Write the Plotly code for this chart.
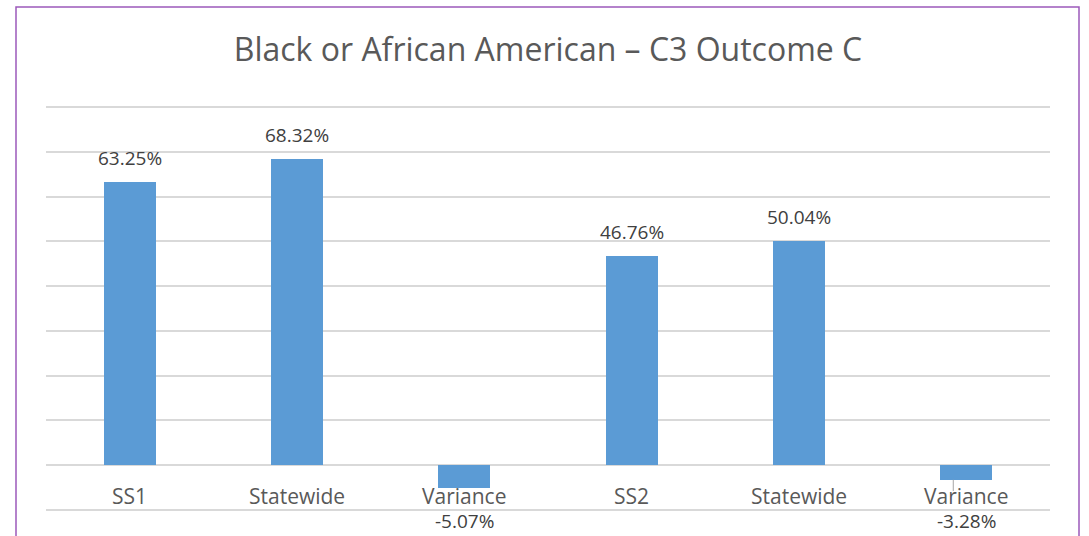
import plotly.graph_objects as go

categories = ["SS1", "Statewide", "Variance", "SS2", "Statewide", "Variance"]
values = [0.6325, 0.6832, -0.0507, 0.4676, 0.5004, -0.0328]
labels = ["63.25%", "68.32%", "-5.07%", "46.76%", "50.04%", "-3.28%"]
title_text = "Black or African American – C3 Outcome C"

W, H = 1089, 536
L, R, T, B = 46, 1050, 106, 511

Y0, Y1 = -0.1, 0.8
EPS = 0.0025
xs = list(range(len(categories)))
fig = go.Figure()
fig.add_trace(go.Bar(x=xs, y=values, width=0.31, marker=dict(color="#5B9BD5", line=dict(width=0)),
                     hoverinfo="skip"))

FONT = "Open Sans"
ann = []
for i, (c, v, t) in enumerate(zip(categories, values, labels)):
    ann.append(dict(x=i, y=0, text=c, showarrow=False, xref="x", yref="y", yanchor="middle", yshift=-31,
                    font=dict(family=FONT, size=21, color="#595959")))
    if v >= 0:
        ann.append(dict(x=i, y=v, text=t, showarrow=False, xref="x", yref="y", yanchor="middle", yshift=24,
                        font=dict(family=FONT, size=19, color="#404040")))
    else:
        ann.append(dict(x=i, y=0, text=t, showarrow=False, xref="x", yref="y", yanchor="middle", yshift=-56,
                        font=dict(family=FONT, size=19, color="#404040")))

def px(x):
    return (x - L) / (R - L)

def py(y):
    return (B - y) / (B - T)

shapes = [dict(type="rect", xref="paper", yref="paper", x0=px(16), x1=px(1079), y0=py(560), y1=py(7),
               line=dict(color="#9C59BA", width=1.5), fillcolor="rgba(0,0,0,0)", layer="above")]
# leader line for last variance label
shapes.append(dict(type="line", xref="x", yref="y", x0=5 - 0.078, x1=5 - 0.078, y0=values[5], y1=values[5] - 0.025,
                   line=dict(color="#A6A6A6", width=1)))

fig.update_layout(
    width=W, height=H,
    margin=dict(l=L, r=W - R, t=T, b=H - B, pad=0),
    paper_bgcolor="white", plot_bgcolor="white",
    showlegend=False,
    bargap=0,
    title=dict(text=title_text, x=0.5, xref="paper", xanchor="center", y=1 - 50 / H, yanchor="middle",
               font=dict(family=FONT, size=32, color="#595959")),
    xaxis=dict(range=[-0.5, 5.5], showticklabels=False, showgrid=False, zeroline=False, ticks="", fixedrange=True),
    yaxis=dict(range=[Y0 - EPS, Y1 + EPS], tick0=0, dtick=0.1, showticklabels=False, showgrid=True,
               gridcolor="#D9D9D9", gridwidth=1.5, zeroline=True, zerolinecolor="#D9D9D9", zerolinewidth=1.5,
               ticks=""),
    annotations=ann,
    shapes=shapes,
)

fig.write_html("out.html", config={"displayModeBar": False},
               post_script="document.body.style.margin='0';document.body.style.overflow='hidden';")
